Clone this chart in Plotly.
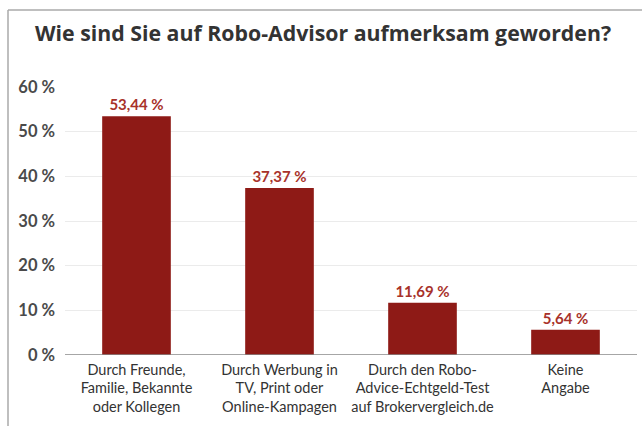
import plotly.graph_objects as go

categories = [
    "Durch Freunde,<br>Familie, Bekannte<br>oder Kollegen",
    "Durch Werbung in<br>TV, Print oder<br>Online-Kampagen",
    "Durch den Robo-<br>Advice-Echtgeld-Test<br>auf Brokervergleich.de",
    "Keine<br>Angabe",
]
values = [53.44, 37.37, 11.69, 5.64]
y_tickvals = [0, 10, 20, 30, 40, 50, 60]
y_ticktext = ["0 %", "10 %", "20 %", "30 %", "40 %", "50 %", "60 %"]
title_text = "Wie sind Sie auf Robo-Advisor aufmerksam geworden?"

labels = [f"{v:.2f}".replace(".", ",") + " %" for v in values]

W, H = 642, 426
ML, MR, MT, MB = 65, 5, 87, 71
pw, ph = W - ML - MR, H - MT - MB

def px_x(px):
    return (px - ML) / pw

def px_y(py):
    return (H - MB - py) / ph

fig = go.Figure()
fig.add_trace(go.Bar(
    x=list(range(len(categories))),
    y=values,
    marker=dict(color="#8e1a16", line=dict(width=0)),
    text=labels,
    textposition="outside",
    textfont=dict(family="Lato", size=15, color="#a8322a", weight="bold"),
    cliponaxis=False,
    hoverinfo="skip",
))

fig.update_layout(
    width=W, height=H,
    margin=dict(l=ML, r=MR, t=MT, b=MB),
    paper_bgcolor="white", plot_bgcolor="white",
    showlegend=False,
    bargap=0.52,
    title=dict(
        text=title_text,
        x=323 / W, xanchor="center",
        y=1 - 34 / H, yanchor="middle",
        font=dict(family="Open Sans", size=21.3, color="#333333", weight="bold"),
    ),
    xaxis=dict(
        tickvals=list(range(len(categories))),
        ticktext=categories,
        range=[-0.5, len(categories) - 0.5],
        tickfont=dict(family="Lato", size=14.5, color="#333333"),
        showgrid=False, zeroline=False,
        showline=False, ticks="",
        ticklabelstandoff=4,
    ),
    yaxis=dict(
        range=[0, 60],
        tickvals=y_tickvals,
        ticktext=y_ticktext,
        tickfont=dict(family="Lato", size=16.5, color="#4a4a4a", weight="bold"),
        showgrid=True, gridcolor="#ebebeb", gridwidth=1,
        zeroline=False, showline=False, ticks="",
        ticklabelstandoff=9,
    ),
    shapes=[
        dict(type="line", xref="paper", yref="y", x0=0, x1=1, y0=0, y1=0,
             line=dict(color="#888888", width=1.5)),
        dict(type="line", xref="paper", yref="paper",
             x0=px_x(8), x1=px_x(W + 2), y0=px_y(10), y1=px_y(10),
             line=dict(color="#aaaaaa", width=1.5)),
        dict(type="line", xref="paper", yref="paper",
             x0=px_x(8), x1=px_x(8), y0=px_y(10), y1=px_y(H + 2),
             line=dict(color="#aaaaaa", width=1.5)),
    ],
)

fig.write_html("out.html", config={"displayModeBar": False},
               post_script="document.body.style.margin='0';")
